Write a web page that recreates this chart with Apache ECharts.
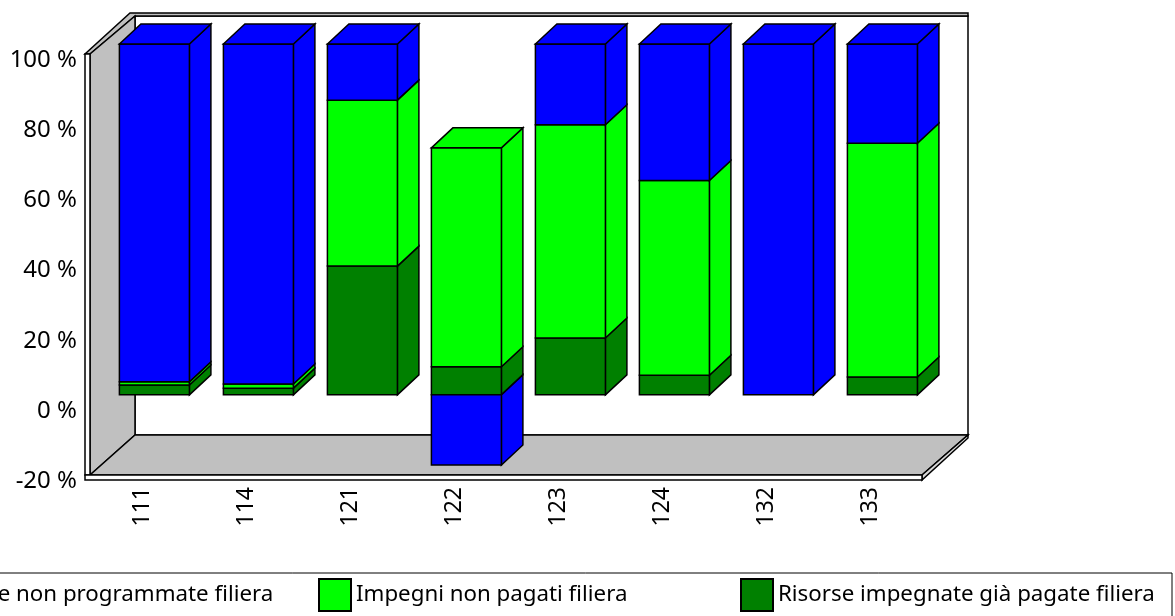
<!DOCTYPE html>
<html>
<head>
<meta charset="utf-8">
<style>html,body{margin:0;padding:0;background:#fff;overflow:hidden}#c{width:1175px;height:616px}</style>
<script src="https://cdn.jsdelivr.net/npm/echarts@6/dist/echarts.min.js"></script>
</head>
<body>
<div id="c"></div>
<script>
const categories = ['111','114','121','122','123','124','132','133'];
const paidValues = [2.8, 1.9, 36.7, 8, 16.2, 5.6, 0, 5.1];
const committedValues = [0.9, 1.2, 47.3, 62.4, 60.8, 55.5, 0, 66.6];
const unprogrammedValues = [96.3, 96.9, 16, -20, 23, 38.9, 100, 28.3];
const seriesNames = ['Risorse non programmate filiera','Impegni non pagati filiera','Risorse impegnate già pagate filiera'];
const yTicks = {min:-20, max:100, interval:20};

const FONT = '"Noto Sans"';
const WALL_DX = 45, WALL_DY = 40;
const BAR_W = 70, BAR_DX = 21.5, BAR_DY = 20;
const OFF_X = 12.4, OFF_Y = 10;
const STROKE = {stroke:'#000', lineWidth:1.5};
const stacks = [paidValues, committedValues, unprogrammedValues];

function poly(pts, fill){
  return {type:'polygon', shape:{points:pts}, style:Object.assign({fill:fill}, STROKE)};
}
function wallRender(params, api){
  const s = params.coordSys, L = s.x, R = s.x + s.width, T = s.y, B = s.y + s.height;
  const dx = WALL_DX, dy = WALL_DY, gray = '#c0c0c0';
  return {type:'group', children:[
    poly([[L+dx,T-dy+2],[R+dx+1,T-dy+2],[R+dx+1,B-dy],[L+dx,B-dy]], '#fff'),
    poly([[L-5+dx,T-dy-1],[R+dx+1,T-dy-1],[R+dx+1,T-dy+2],[L+dx,T-dy+2],[L,T],[L-5,T]], gray),
    poly([[L,T],[L+dx,T-dy+2],[L+dx,B-dy],[L,B]], gray),
    poly([[L,B],[L+dx,B-dy],[R+dx+1,B-dy],[R,B]], gray),
    poly([[R,B],[R+dx+1,B-dy],[R+dx+1,B-dy+3],[R,B+5]], '#d8d8d8'),
    poly([[L-5,T],[L,T],[L,B],[L-5,B]], '#fff'),
    poly([[L-5,B],[R,B],[R,B+5],[L-5,B+5]], '#fff')
  ]};
}
function segRender(seriesIdx, color){
  return function(params, api){
    const i = api.value(0), v = api.value(1);
    if(!v) return null;
    let base = 0;
    if(v > 0){ for(let k=0;k<seriesIdx;k++){ if(stacks[k][i]>0) base += stacks[k][i]; } }
    const p0 = api.coord([i, base]), p1 = api.coord([i, base + v]);
    const x0 = p0[0] + OFF_X - BAR_W/2, x1 = x0 + BAR_W;
    const y0 = p0[1] - OFF_Y, y1 = p1[1] - OFF_Y;
    const children = [
      poly([[x1,y0],[x1+BAR_DX,y0-BAR_DY],[x1+BAR_DX,y1-BAR_DY],[x1,y1]], color),
      poly([[x0,y0],[x1,y0],[x1,y1],[x0,y1]], color)
    ];
    let isTop = v > 0;
    for(let k=seriesIdx+1;k<stacks.length;k++){ if(stacks[k][i]>0) isTop = false; }
    if(isTop){
      children.push(poly([[x0,y1],[x0+BAR_DX,y1-BAR_DY],[x1+BAR_DX,y1-BAR_DY],[x1,y1]], color));
    }
    return {type:'group', children:children};
  };
}
function makeSeries(name, values, idx, color){
  return {
    type:'custom', name:name, coordinateSystem:'cartesian2d', clip:false, z:3,
    itemStyle:{color:color, borderColor:'#000', borderWidth:1},
    renderItem:segRender(idx, color),
    data:values.map((v,i)=>[i,v]), silent:true, animation:false
  };
}
const legendBase = {
  orient:'horizontal', top:578, itemWidth:32, itemHeight:32, itemGap:3, icon:'rect',
  selectedMode:false, padding:0,
  textStyle:{fontFamily:FONT, fontSize:22.3, color:'#000', padding:[0,0,4,0]}
};
const chart = echarts.init(document.getElementById('c'), null, {renderer:'canvas'});
chart.setOption({
  animation:false,
  backgroundColor:'#fff',
  grid:{left:90, right:253, top:54, bottom:141, containLabel:false},
  xAxis:{type:'category', data:categories, boundaryGap:true,
    axisLine:{show:false}, axisTick:{show:false}, splitLine:{show:false},
    axisLabel:{rotate:90, margin:12, interval:0, fontFamily:FONT, fontSize:23, color:'#000'}},
  yAxis:{type:'value', min:yTicks.min, max:yTicks.max, interval:yTicks.interval,
    axisLine:{show:false}, axisTick:{show:false}, splitLine:{show:false},
    axisLabel:{formatter:'{value} %', margin:13, fontFamily:FONT, fontSize:24, color:'#000', verticalAlign:'top', lineHeight:12}},
  legend:[
    Object.assign({}, legendBase, {left:-104, data:[seriesNames[0]]}),
    Object.assign({}, legendBase, {left:318, data:[seriesNames[1]]}),
    Object.assign({}, legendBase, {left:740, data:[seriesNames[2]]})
  ],
  graphic:[{type:'rect', z:-1, silent:true, shape:{x:-5,y:573,width:1177,height:60},
    style:{fill:'#fff', stroke:'#000', lineWidth:1}}],
  series:[
    {type:'custom', name:'wall', coordinateSystem:'cartesian2d', clip:false, z:1, silent:true,
     renderItem:wallRender, data:[[0,0]]},
    makeSeries(seriesNames[2], paidValues, 0, '#008000'),
    makeSeries(seriesNames[1], committedValues, 1, '#00ff00'),
    makeSeries(seriesNames[0], unprogrammedValues, 2, '#0000ff')
  ]
});
</script>
</body>
</html>
